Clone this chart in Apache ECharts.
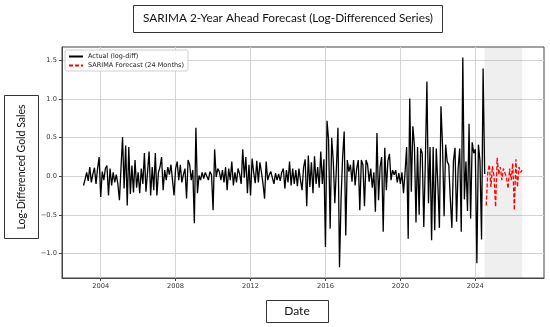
<!DOCTYPE html>
<html><head><meta charset="utf-8">
<script src="https://cdn.jsdelivr.net/npm/echarts@6/dist/echarts.min.js"></script>
<style>html,body{margin:0;padding:0;background:#fff}#c{width:550px;height:327px}</style>
</head><body><div id="c"></div>
<script>
// ---- data (monthly log-differenced series) ----
const actualStart = [2003, 2]; // year, month of first actual value
const y2003 = [-0.12, -0.04, 0.05, -0.06, 0.12, -0.08, 0.03, 0.11, -0.10, 0.10, 0.25];
const y2004 = [-0.27, 0.06, -0.05, 0.10, 0.14, -0.25, 0.10, -0.12, 0.05, -0.08, 0.02, -0.10];
const y2005 = [-0.31, 0.10, 0.51, -0.16, 0.40, -0.38, 0.38, -0.23, 0.14, -0.21, 0.21, -0.15];
const y2006 = [0.05, -0.22, 0.10, -0.10, 0.30, -0.20, 0.05, 0.32, -0.25, 0.12, -0.18, 0.30];
const y2007 = [-0.25, 0.05, 0.12, 0.25, -0.18, 0.08, -0.05, 0.12, 0.02, 0.15, -0.05, -0.25];
const y2008 = [0.10, 0.19, -0.05, 0.15, -0.08, 0.02, 0.10, -0.29, 0.21, 0.15, -0.05, 0.08];
const y2009 = [-0.61, 0.63, -0.22, 0.01, -0.05, 0.05, -0.03, 0.05, 0.03, -0.05, 0.06, 0.02];
const y2010 = [-0.44, 0.35, -0.01, 0.10, 0.06, -0.05, 0.08, -0.08, 0.12, -0.18, 0.10, -0.05];
const y2011 = [0.19, -0.12, 0.05, -0.08, 0.10, 0.03, -0.10, 0.35, -0.02, 0.25, -0.22, 0.15];
const y2012 = [-0.25, 0.23, 0.05, -0.09, 0.20, -0.08, 0.18, 0.05, -0.10, -0.29, 0.19, -0.05];
const y2013 = [0.02, 0.06, -0.02, -0.10, 0.04, -0.05, 0.03, -0.06, 0.05, 0.10, -0.16, 0.08];
const y2014 = [-0.08, 0.19, -0.12, 0.10, -0.10, 0.08, -0.13, 0.10, -0.05, -0.18, 0.12, 0.22];
const y2015 = [-0.39, 0.27, -0.14, 0.18, -0.22, 0.26, -0.10, 0.12, -0.15, 0.32, -0.10, 0.22];
const y2016 = [-0.92, 0.72, 0.47, -0.68, 0.50, 0.20, -0.35, 0.10, 0.63, -1.18, -0.30, 0.25];
const y2017 = [0.58, -0.77, 0.21, 0.06, 0.15, -0.07, 0.21, -0.12, 0.10, 0.21, -0.44, 0.21];
const y2018 = [0.15, -0.39, 0.21, 0.15, -0.07, 0.10, -0.15, 0.05, -0.46, 0.56, -0.31, 0.12];
const y2019 = [0.25, -0.72, 0.37, -0.18, 0.20, 0.29, -0.05, 0.08, 0.02, 0.08, -0.08, 0.04];
const y2020 = [-0.10, 0.05, -0.22, 0.05, 0.38, -0.81, 1.01, -0.20, 0.65, 0.40, -0.60, 0.38];
const y2021 = [-0.50, 0.36, 0.30, -0.66, 0.20, 1.23, -0.35, 0.38, -0.83, 0.38, -0.70, 0.36];
const y2022 = [-0.10, -0.67, 0.91, 0.40, -0.52, 0.41, 0.19, 0.15, -0.30, -0.67, 0.20, 0.37];
const y2023 = [-0.59, 0.10, 0.36, -0.72, 1.54, -0.30, 0.19, -0.45, 0.68, -0.55, 0.44, 0.30];
const y2024 = [0.35, -1.13, 0.41, 0.20, -0.82, 1.40, 0.03];

const forecastStart = [2024, 8];
const forecastValues = [-0.38, 0.05, 0.15, -0.14, 0.13, 0.00, -0.40, 0.24, 0.02, 0.12, -0.05, 0.10,
                        0.08, -0.02, -0.16, 0.10, -0.05, 0.17, -0.44, 0.22, -0.14, 0.12, 0.05, 0.08];

const xTickYears = [2004, 2008, 2012, 2016, 2020, 2024];
const yTickValues = [-1.0, -0.5, 0.0, 0.5, 1.0, 1.5];
const xRange = [2001.934, 2027.668];
const yRange = [-1.321, 1.678];
const shadeRange = [2024.5, 2026.5];

const titleText = 'SARIMA 2-Year Ahead Forecast (Log-Differenced Series)';
const yLabelText = 'Log-Differenced Gold Sales';
const xLabelText = 'Date';
const actualName = 'Actual (log-diff)';
const forecastName = 'SARIMA Forecast (24 Months)';

// ---- build ----
const actualValues = [].concat(y2003, y2004, y2005, y2006, y2007, y2008, y2009, y2010, y2011,
  y2012, y2013, y2014, y2015, y2016, y2017, y2018, y2019, y2020, y2021, y2022, y2023, y2024);
function toDecYear(start, i) { return start[0] + (start[1] - 1 + i) / 12; }
const actualData = actualValues.map((v, i) => [toDecYear(actualStart, i), v]);
const forecastData = forecastValues.map((v, i) => [toDecYear(forecastStart, i), v]);

const tickFont = 'DejaVu Sans';
const fmtY = v => (v < 0 ? '\u2212' : '') + Math.abs(v).toFixed(1);

const chart = echarts.init(document.getElementById('c'), null, {renderer: 'canvas'});
chart.setOption({
  animation: false,
  backgroundColor: '#fff',
  grid: {left: 62, right: 6, top: 47, bottom: 49, show: true, borderColor: '#444', borderWidth: 1, containLabel: false},
  legend: {
    left: 65, top: 50, orient: 'vertical', itemWidth: 14, itemHeight: 8, itemGap: 2,
    padding: [3, 4, 2, 3], borderColor: '#cfcfcf', borderWidth: 1, borderRadius: 2,
    backgroundColor: 'rgba(255,255,255,0.85)',
    itemStyle: {opacity: 0},
    textStyle: {fontFamily: tickFont, fontSize: 6.5, color: '#222', padding: [0, 0, 0, 0]},
    data: [actualName, forecastName]
  },
  xAxis: {
    type: 'value', min: xRange[0], max: xRange[1],
    axisLine: {show: true, onZero: false, lineStyle: {color: '#444', width: 1}},
    axisTick: {show: true, length: 3, lineStyle: {color: '#444'}, customValues: xTickYears},
    axisLabel: {customValues: xTickYears, formatter: v => String(Math.round(v)), fontFamily: tickFont, fontSize: 6.7, color: '#333', margin: 5},
    splitLine: {show: true, lineStyle: {color: '#d3d3d3', width: 1}}
  },
  yAxis: {
    type: 'value', min: yRange[0], max: yRange[1],
    axisLine: {show: true, onZero: false, lineStyle: {color: '#444', width: 1}},
    axisTick: {show: true, length: 3, lineStyle: {color: '#444'}, customValues: yTickValues},
    axisLabel: {customValues: yTickValues, formatter: fmtY, fontFamily: tickFont, fontSize: 6.7, color: '#333', margin: 5},
    splitLine: {show: true, lineStyle: {color: '#d3d3d3', width: 1}}
  },
  series: [
    {
      name: actualName, type: 'line', data: actualData, showSymbol: false, symbol: 'none',
      lineStyle: {color: '#000', width: 1.3}, itemStyle: {color: '#000'}, z: 3,
      markArea: {silent: true, itemStyle: {color: 'rgba(128,128,128,0.13)'},
        data: [[{xAxis: shadeRange[0]}, {xAxis: shadeRange[1]}]]}
    },
    {
      name: forecastName, type: 'line', data: forecastData, showSymbol: false, symbol: 'none',
      lineStyle: {color: '#ff0000', width: 1.3, type: [4, 2]}, itemStyle: {color: '#ff0000'}, z: 4
    }
  ],
  graphic: [
    {type: 'rect', shape: {x: 133.5, y: 5.5, width: 309, height: 27}, style: {fill: '#fff', stroke: '#333', lineWidth: 1}},
    {type: 'text', x: 288, y: 18.5, style: {text: titleText, fill: '#111', font: '11.8px Lato', align: 'center', verticalAlign: 'middle', textAlign: 'center', textVerticalAlign: 'middle'}},
    {type: 'rect', shape: {x: 4.5, y: 95.5, width: 34, height: 143}, style: {fill: '#fff', stroke: '#333', lineWidth: 1}},
    {type: 'text', x: 22, y: 167, rotation: Math.PI / 2, style: {text: yLabelText, fill: '#111', font: '10.5px Lato', align: 'center', verticalAlign: 'middle', textAlign: 'center', textVerticalAlign: 'middle'}},
    {type: 'rect', shape: {x: 266.5, y: 300.5, width: 62, height: 22}, style: {fill: '#fff', stroke: '#333', lineWidth: 1}},
    {type: 'text', x: 297, y: 311.5, style: {text: xLabelText, fill: '#111', font: '12px Lato', align: 'center', verticalAlign: 'middle', textAlign: 'center', textVerticalAlign: 'middle'}}
  ]
});
</script></body></html>
